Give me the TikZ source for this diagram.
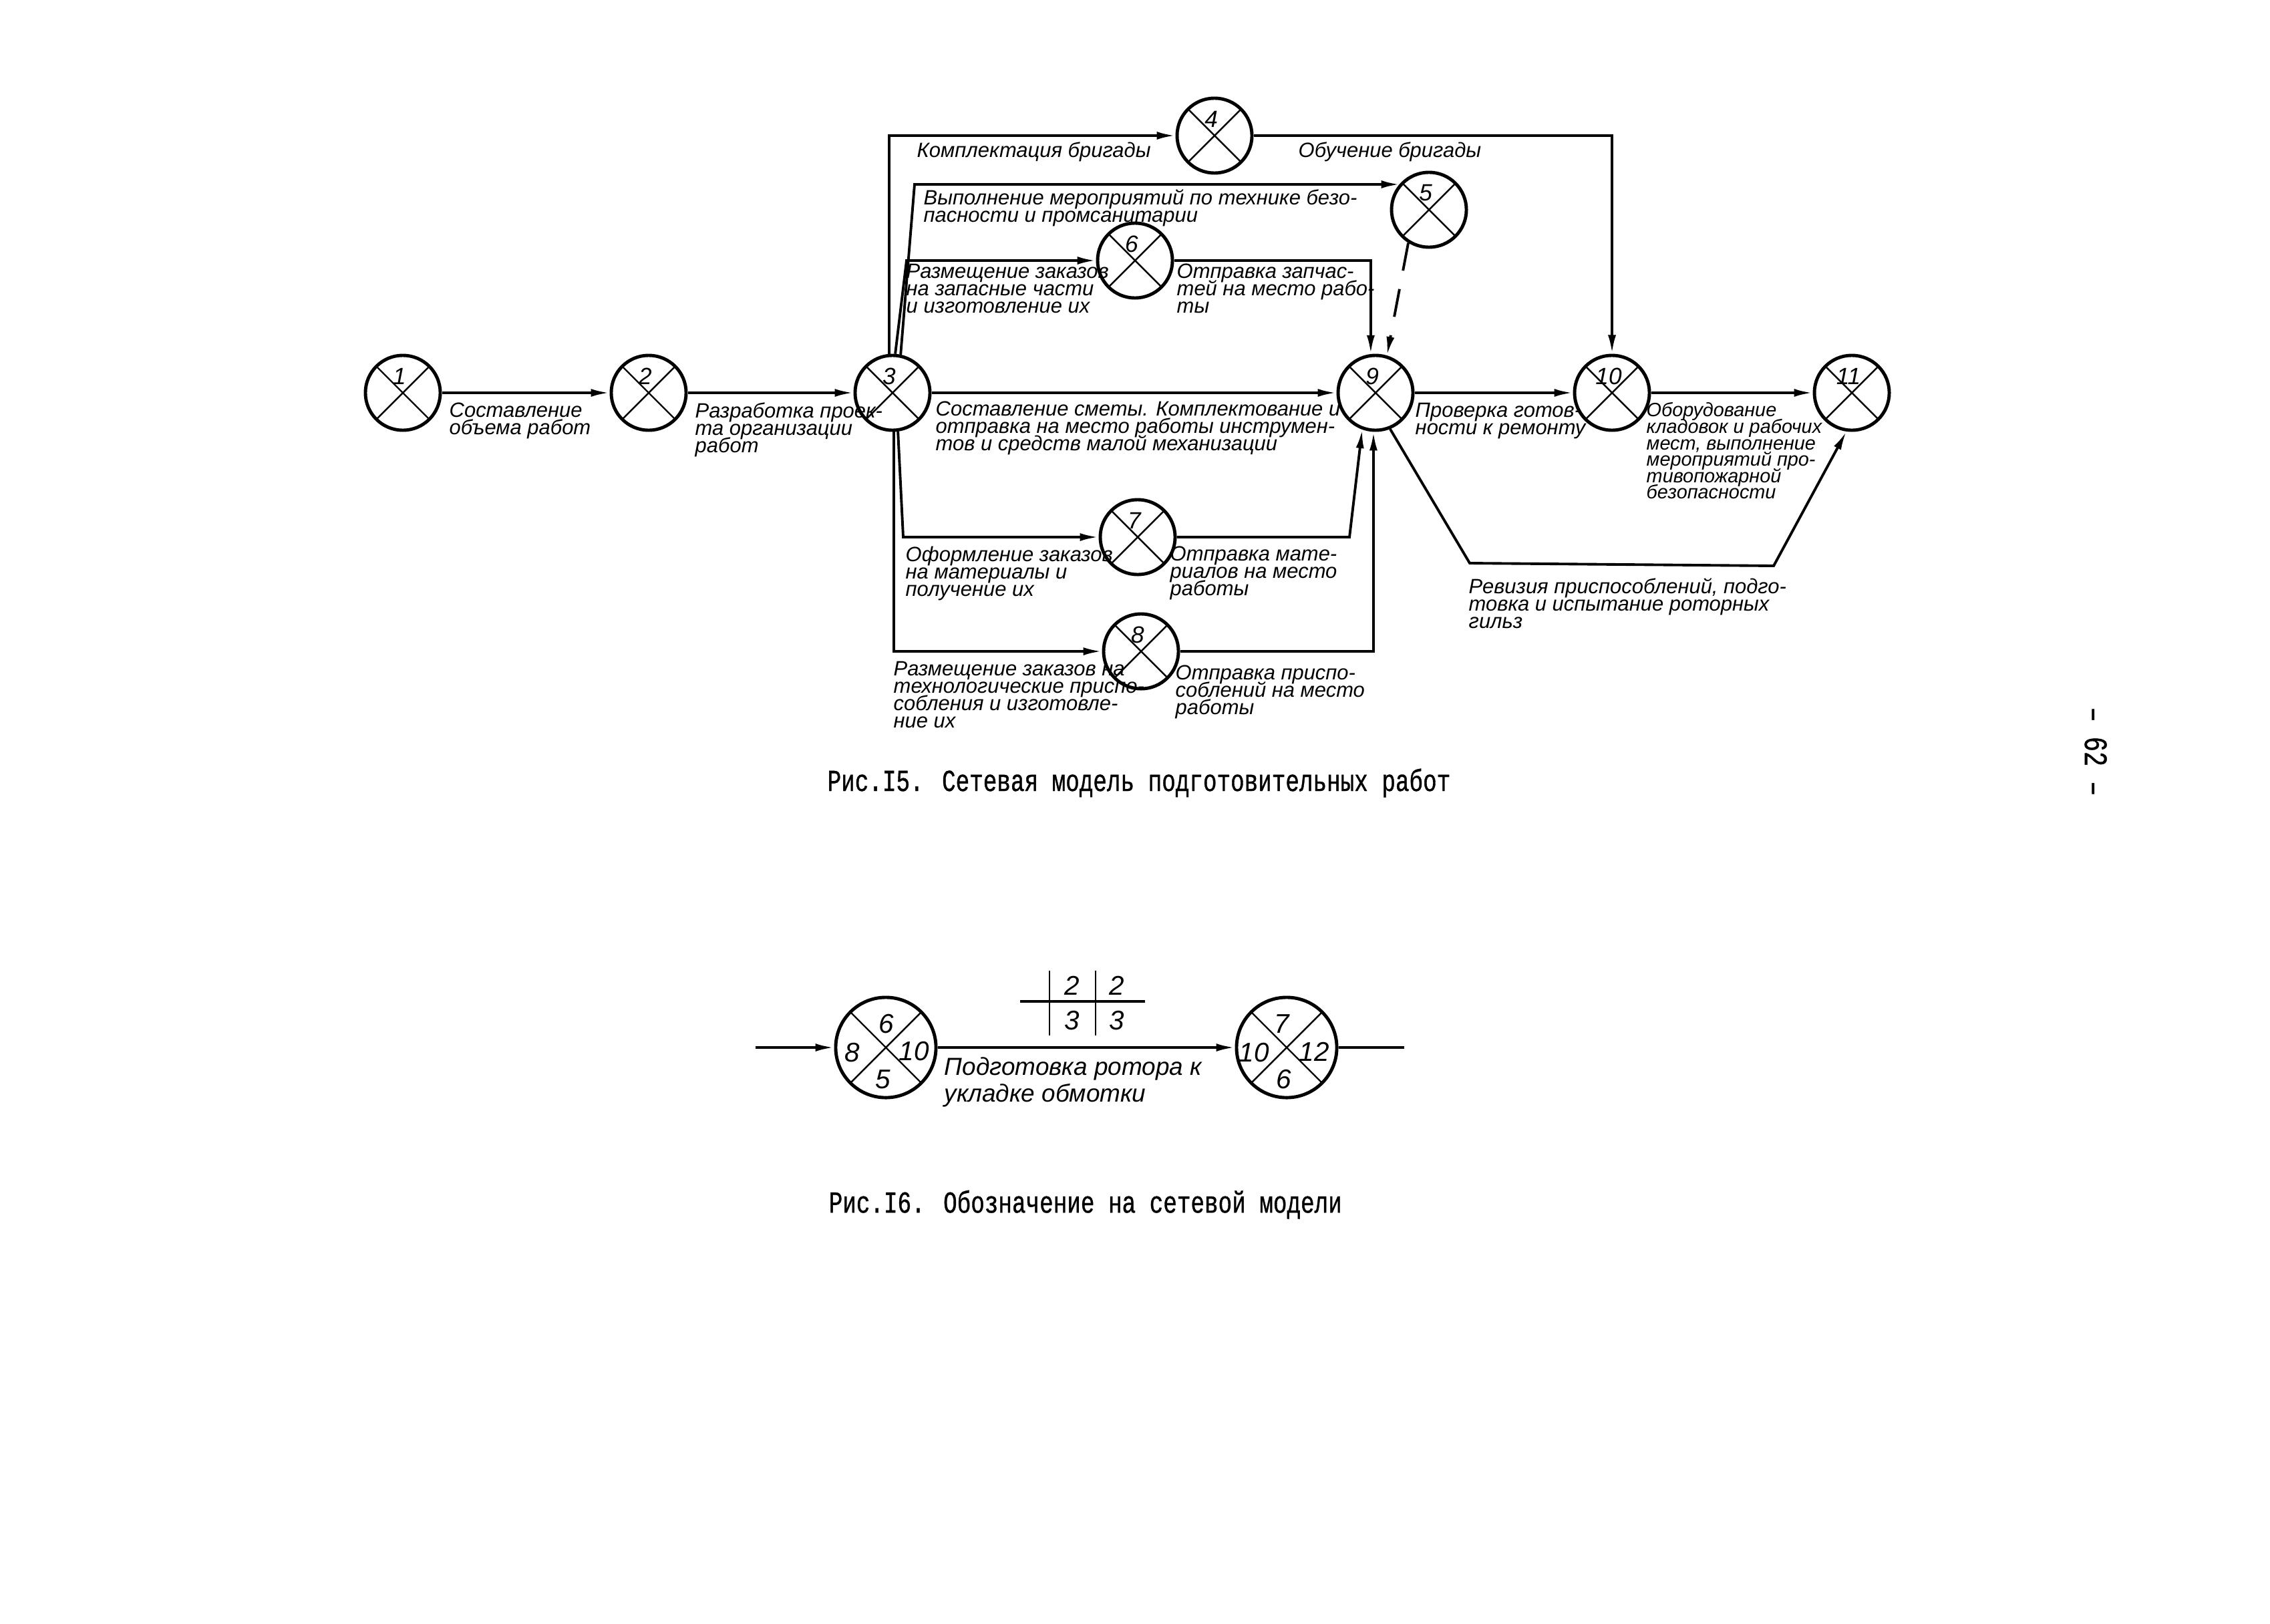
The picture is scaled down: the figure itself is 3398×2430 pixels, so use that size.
\documentclass[tikz,border=0pt]{standalone}
\usepackage{fontspec}
\setmainfont{Liberation Sans}
\newfontfamily\handfont{Liberation Sans}
\newfontfamily\typefont{Liberation Mono}[FakeStretch=0.75,FakeBold=0.8]
\newcommand\mytightlines{\lineskiplimit=-100pt\relax\lineskip=0pt\relax}
\usetikzlibrary{arrows.meta}
\tikzset{
  conn/.style={line width=1.1pt},
  arr/.style={conn, -{Latex[length=2.8mm,width=1.2mm]}},
  num/.style={font=\handfont\itshape\fontsize{10}{10}\selectfont, inner sep=0pt, yshift=0.25cm, xshift=-0.05cm},
  ev/.style={circle, draw, line width=1.4pt, minimum size=1.12cm, inner sep=0pt,
    path picture={\draw[line width=0.7pt] (path picture bounding box.north west) -- (path picture bounding box.south east)
      (path picture bounding box.north east) -- (path picture bounding box.south west);},
    label={[num]center:#1}},
  bigev/.style={circle, draw, line width=1.4pt, minimum size=1.5cm, inner sep=0pt,
    path picture={\draw[line width=0.7pt] (path picture bounding box.north west) -- (path picture bounding box.south east)
      (path picture bounding box.north east) -- (path picture bounding box.south west);}},
  lab/.style={font=\handfont\itshape\fontsize{8.8}{7.4}\selectfont\mytightlines, align=left, anchor=north west, inner sep=0pt},
  tightlab/.style={lab, font=\handfont\itshape\fontsize{8.2}{7}\selectfont\mytightlines},
  bnum/.style={font=\handfont\itshape\fontsize{11.5}{11.5}\selectfont, inner sep=0pt},
  capt/.style={font=\typefont\fontsize{13}{15}\selectfont, inner sep=0pt}
}
\begin{document}
\begin{tikzpicture}[x=0.01cm, y=-0.01cm]
\useasboundingbox[fill=white] (0,0) rectangle (3398,2430);

% ---------- Fig. 15 ----------
\node[ev=1]  (n1)  at (603,588)  {};
\node[ev=2]  (n2)  at (971,588)  {};
\node[ev=3]  (n3)  at (1336,588) {};
\node[ev=4]  (n4)  at (1818,203) {};
\node[ev=5]  (n5)  at (2139,314) {};
\node[ev=6]  (n6)  at (1699,390) {};
\node[ev=7]  (n7)  at (1703,804) {};
\node[ev=8]  (n8)  at (1708,975) {};
\node[ev=9]  (n9)  at (2059,588) {};
\node[ev=10] (n10) at (2413,588) {};
\node[ev=11] (n11) at (2772,588) {};

\coordinate (c5) at (1369,276);
\coordinate (c6) at (1357,390);
\coordinate (c7) at (1352,804);
\coordinate (c79) at (2020,804);
\coordinate (r1) at (2200,843);
\coordinate (r2) at (2655,847);

\draw[arr] (n1) -- (n2);
\draw[arr] (n2) -- (n3);
\draw[arr] (n3) -- (n9);
\draw[arr] (n9) -- (n10);
\draw[arr] (n10) -- (n11);
\draw[arr] (n3.95) |- (n4);
\draw[arr] (n4) -| (n10);
\draw[arr] (n3.78) -- (c5) -- (c5 -| n5.138);
\draw[arr] (n3.86) -- (c6) -- (n6);
\draw[arr] (n6) -| (n9.97);
\draw[arr, dashed, dash pattern=on 12pt off 8pt] (n5.238) -- (n9.73);
\draw[arr] (n3.278) -- (c7) -- (n7);
\draw[arr] (n7) -- (c79) -- (n9.250);
\draw[arr] (n3.272) |- (n8);
\draw[arr] (n8) -| (n9.267);
\draw[arr] (n9.292) -- (r1) -- (r2) -- (n11.262);

\node[lab] (l12) at (672,602) {Составление\\объема работ};
\node[lab] (l23) at (1040,602) {Разработка проек-\\та организации\\работ};
\node[lab] (l34) at (1372,212) {Комплектация бригады};
\node[lab] (l410) at (1943,212) {Обучение бригады};
\node[lab] (l35) at (1382,283) {Выполнение мероприятий по технике безо-\\пасности и промсанитарии};
\node[lab] (l36) at (1356,394) {Размещение заказов\\на запасные части\\и изготовление их};
\node[lab] (l69) at (1761,394) {Отправка запчас-\\тей на место рабо-\\ты};
\node[lab] (l39) at (1400,600) {Составление сметы. Комплектование и\\отправка на место работы инструмен-\\тов и средств малой механизации};
\node[lab] (l910) at (2118,602) {Проверка готов-\\ности к ремонту};
\node[tightlab] (l1011) at (2464,602) {Оборудование\\кладовок и рабочих\\мест, выполнение\\мероприятий про-\\тивопожарной\\безопасности};
\node[lab] (l911) at (2198,865) {Ревизия приспособлений, подго-\\товка и испытание роторных\\гильз};
\node[lab] (l37) at (1355,817) {Оформление заказов\\на материалы и\\получение их};
\node[lab] (l79) at (1751,817) {Отправка мате-\\риалов на место\\работы};
\node[lab] (l38) at (1337,989) {Размещение заказов на\\технологические приспо-\\собления и изготовле-\\ние их};
\node[lab] (l89) at (1759,995) {Отправка приспо-\\соблений на место\\работы};

\node[capt] (cap15) at (1705,1172) {Рис.I5. Сетевая модель подготовительных работ};

% ---------- Fig. 16 ----------
\node[bigev] (f1) at (1326,1568) {};
\node[bigev] (f2) at (1926,1568) {};
\coordinate (fin) at (1131,1568);
\coordinate (fout) at (2102,1568);
\draw[arr] (fin) -- (f1);
\draw[arr] (f1) -- (f2);
\draw[conn] (f2) -- (fout);

\node[bnum] at (1327,1533) {6};
\node[bnum] at (1276,1576) {8};
\node[bnum] at (1368,1574) {10};
\node[bnum] at (1322,1616) {5};
\node[bnum] at (1919,1533) {7};
\node[bnum] at (1877,1576) {10};
\node[bnum] at (1967,1574) {12};
\node[bnum] at (1922,1616) {6};

\coordinate (ta) at (1527,1499);
\coordinate (tb) at (1714,1499);
\coordinate (tc) at (1571,1453);
\coordinate (td) at (1571,1550);
\coordinate (te) at (1640,1453);
\coordinate (tf) at (1640,1550);
\draw[conn] (ta) -- (tb);
\draw[line width=0.7pt] (tc) -- (td) (te) -- (tf);
\node[bnum] at (1605,1475) {2};
\node[bnum] at (1672,1475) {2};
\node[bnum] at (1605,1528) {3};
\node[bnum] at (1672,1528) {3};

\node[lab, font=\handfont\itshape\fontsize{10.5}{11.5}\selectfont] (l16) at (1413,1582) {Подготовка ротора к\\укладке обмотки};

\node[capt, anchor=west] (cap16) at (1240,1803) {Рис.I6. Обозначение на сетевой модели};

\node[capt, rotate=-90, font=\typefont\fontsize{14}{15}\selectfont] (pg) at (3137,1125) {– 62 –};
\end{tikzpicture}
\end{document}
